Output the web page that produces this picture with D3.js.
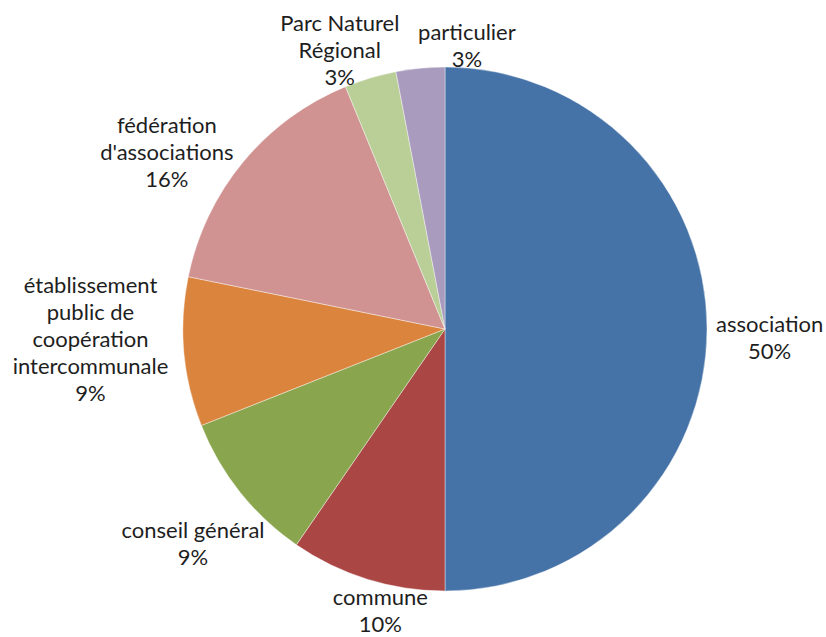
<!DOCTYPE html>
<html>
<head>
<meta charset="utf-8">
<script src="https://cdn.jsdelivr.net/npm/d3@7"></script>
<style>
  body { margin: 0; background: #fff; }
  svg text { font-family: Lato, "Open Sans", sans-serif; fill: #1e1e1e; }
</style>
</head>
<body>
<svg id="chart" width="826" height="637"></svg>
<script>
// categories, clockwise from 12 o'clock
const categories = [
  "association",
  "commune",
  "conseil général",
  "établissement public de coopération intercommunale",
  "fédération d'associations",
  "Parc Naturel Régional",
  "particulier"
];
// share of each category (percent)
const values = [50, 9.6, 9.4, 9.2, 15.6, 3.2, 3.0];
// how each label breaks over lines
const labelLines = [
  ["association"],
  ["commune"],
  ["conseil général"],
  ["établissement", "public de", "coopération", "intercommunale"],
  ["fédération", "d'associations"],
  ["Parc Naturel", "Régional"],
  ["particulier"]
];
const colors = ["#4572A7", "#AA4643", "#89A54E", "#DB843D", "#D19392", "#BACF97", "#A99BBD"];

// hand tweaks of label placement, like dragging them in the spreadsheet
const labelNudge = [[0, 9], [30, -3], [16, 29], [-7, -19], [-18, 22], [-11, 20], [52, 13]];

const svg = d3.select("#chart");
const cx = 445, cy = 329, radius = 262;
const fontSize = 22, lineH = 27, gap = 9;

const g = svg.append("g").attr("transform", `translate(${cx},${cy})`);

const pie = d3.pie().sort(null).value(d => d.value);
const arcs = pie(values.map((v, i) => ({ value: v, i })));
const arc = d3.arc().innerRadius(0).outerRadius(radius);

g.selectAll("path.slice")
  .data(arcs)
  .join("path")
  .attr("class", "slice")
  .attr("d", arc)
  .attr("fill", d => colors[d.data.i])
  .attr("stroke", "#fff")
  .attr("stroke-opacity", 0.5)
  .attr("stroke-width", 0.8);

const fmt = d3.format(".0%");

arcs.forEach(d => {
  const i = d.data.i;
  const lines = labelLines[i].concat([fmt(d.data.value / 100)]);
  const label = g.append("text")
    .attr("text-anchor", "middle")
    .style("font-size", fontSize + "px");
  lines.forEach((t, k) => {
    label.append("tspan").attr("x", 0).attr("y", k * lineH).text(t);
  });

  // outside end placement along the mid angle
  const w = label.node().getBBox().width;
  const h = lines.length * lineH;
  const a = (d.startAngle + d.endAngle) / 2;
  const dx = Math.sin(a), dy = -Math.cos(a);
  const ax = dx * (radius + gap), ay = dy * (radius + gap);
  const lx = ax + dx * w / 2 + labelNudge[i][0];
  const ly = ay + dy * h / 2 + labelNudge[i][1];
  const firstY = ly - (lines.length - 1) * lineH / 2 + fontSize * 0.35;
  label.attr("transform", `translate(${lx},${firstY})`);
});
</script>
</body>
</html>
